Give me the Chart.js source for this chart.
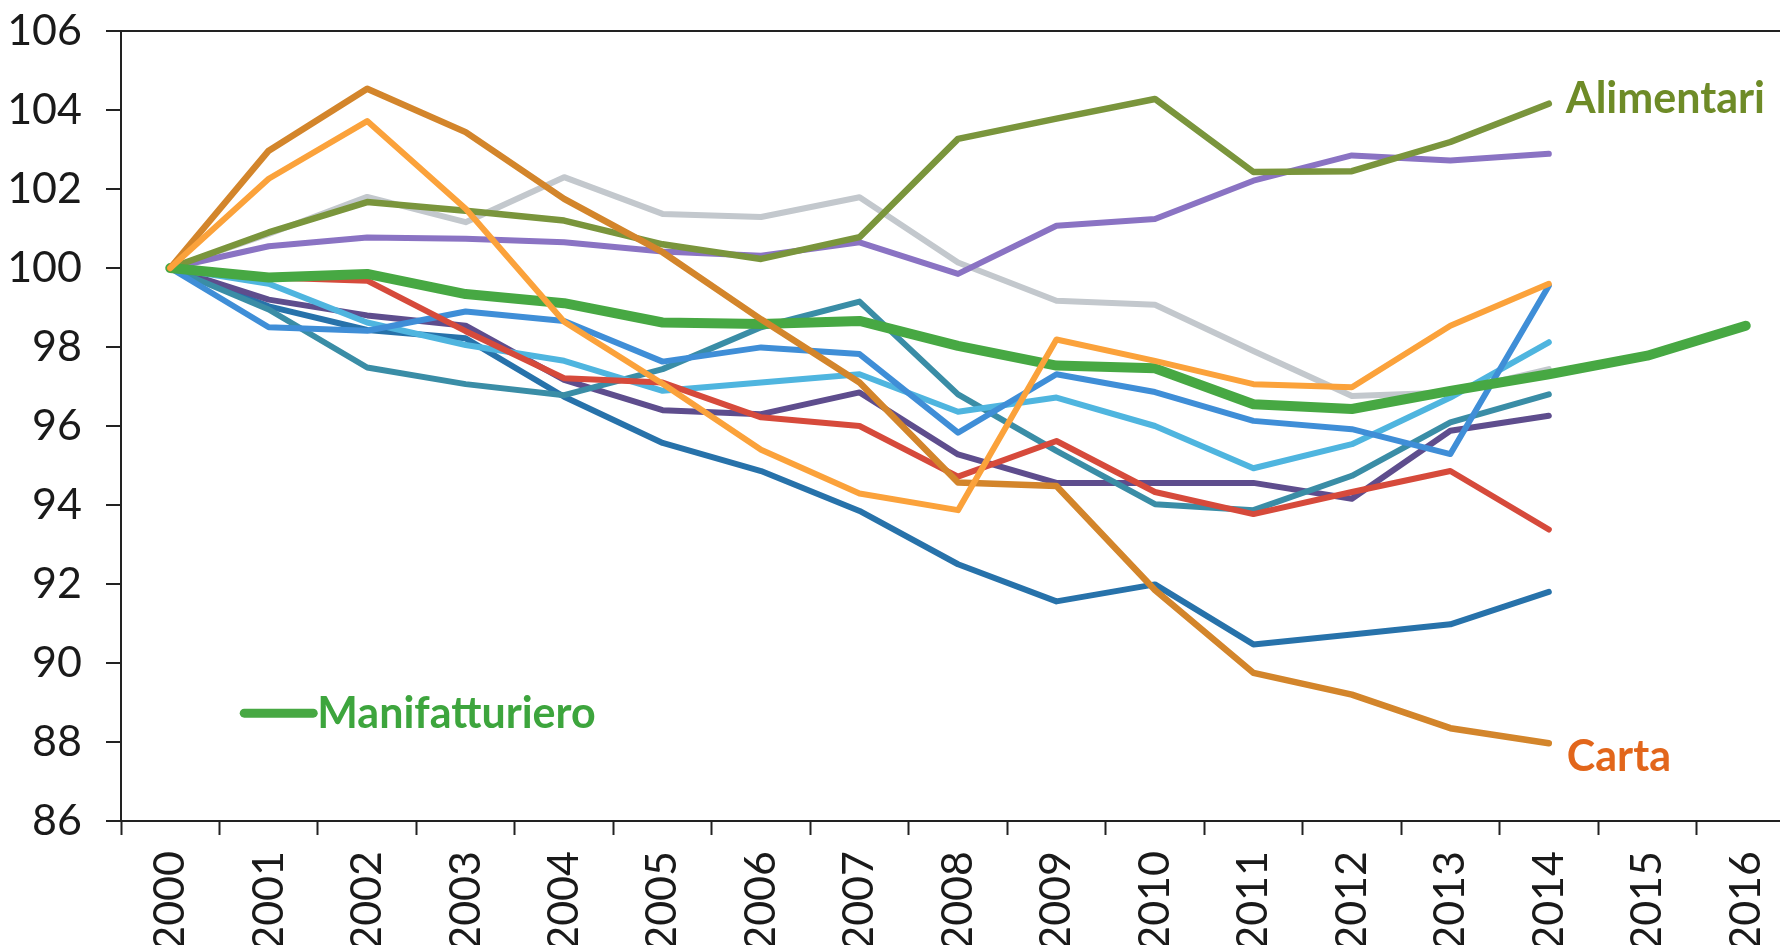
<!DOCTYPE html>
<html><head><meta charset="utf-8">
<script src="https://cdn.jsdelivr.net/npm/chart.js@4.4.1/dist/chart.umd.min.js"></script>
<style>
html,body{margin:0;padding:0;background:#fff;overflow:hidden;width:1780px;height:945px;}
#wrap{position:absolute;left:0;top:0;width:1800px;height:945px;}
</style></head><body>
<div id="wrap"><canvas id="c" width="1800" height="945"></canvas></div>
<script>
const years = ['2000','2001','2002','2003','2004','2005','2006','2007','2008','2009','2010','2011','2012','2013','2014','2015','2016'];
const yTicksMin = 86, yTicksMax = 106, yStep = 2;

const alimentari   = [100, 100.9, 101.67, 101.45, 101.2, 100.6, 100.23, 100.78, 103.27, 103.78, 104.28, 102.43, 102.45, 103.19, 104.16];
const viola        = [100, 100.55, 100.77, 100.74, 100.65, 100.42, 100.31, 100.65, 99.85, 101.07, 101.24, 102.21, 102.85, 102.72, 102.89];
const grigio       = [100, 100.86, 101.8, 101.16, 102.3, 101.37, 101.29, 101.79, 100.14, 99.17, 99.07, 97.9, 96.76, 96.85, 97.44];
const manifatturiero = [100, 99.76, 99.85, 99.34, 99.11, 98.62, 98.58, 98.66, 98.03, 97.53, 97.46, 96.55, 96.43, 96.89, 97.31, 97.78, 98.54];
const carta        = [100, 102.97, 104.54, 103.44, 101.75, 100.4, 98.7, 97.1, 94.57, 94.48, 91.85, 89.75, 89.2, 88.35, 87.97];
const arancio      = [100, 102.26, 103.72, 101.5, 98.64, 97.07, 95.4, 94.29, 93.87, 98.19, 97.65, 97.06, 96.98, 98.54, 99.6];
const ottanio      = [100, 98.95, 97.48, 97.06, 96.78, 97.44, 98.5, 99.15, 96.8, 95.37, 94.02, 93.87, 94.74, 96.09, 96.8];
const blu          = [100, 98.5, 98.41, 98.9, 98.66, 97.63, 97.99, 97.82, 95.83, 97.31, 96.86, 96.13, 95.92, 95.29, 99.55];
const azzurro      = [100, 99.6, 98.62, 98.05, 97.65, 96.89, 97.1, 97.31, 96.36, 96.72, 96.0, 94.93, 95.54, 96.72, 98.12];
const violaScuro   = [100, 99.2, 98.8, 98.54, 97.17, 96.4, 96.3, 96.85, 95.28, 94.56, 94.56, 94.56, 94.16, 95.88, 96.26];
const rosso        = [100, 99.76, 99.68, 98.4, 97.21, 97.1, 96.22, 96.0, 94.72, 95.62, 94.33, 93.77, 94.33, 94.86, 93.38];
const bluScuro     = [100, 99.03, 98.43, 98.22, 96.74, 95.57, 94.86, 93.85, 92.5, 91.56, 91.99, 90.47, 90.72, 90.98, 91.8];

const mk = (label, data, color, w) => ({label, data, borderColor: color, backgroundColor: color, borderWidth: w, fill: false});
const datasets = [
  mk('Arancio', arancio, '#FBA23B', 6),
  mk('Carta', carta, '#D3852B', 6.5),
  mk('Manifatturiero', manifatturiero, '#47A843', 10),
  mk('Rosso', rosso, '#D64A3B', 6),
  mk('Alimentari', alimentari, '#7A953C', 6.5),
  mk('Viola', viola, '#8A73C3', 6),
  mk('Grigio', grigio, '#C3C8CD', 6),
  mk('Blu', blu, '#3F8ED7', 6),
  mk('Azzurro', azzurro, '#4FB5DF', 6),
  mk('Ottanio', ottanio, '#3A8DA6', 6),
  mk('ViolaScuro', violaScuro, '#5E4D8D', 6),
  mk('BluScuro', bluScuro, '#2772AA', 6)
];

const annot = {
  id: 'annot',
  afterDatasetsDraw(chart) {
    const {ctx, scales: {x, y}} = chart;
    const last = alimentari.length - 1;
    ctx.save();
    ctx.textAlign = 'left';
    ctx.textBaseline = 'alphabetic';
    ctx.font = 'bold 43px Lato';
    ctx.fillStyle = '#6E8B27';
    ctx.fillText('Alimentari', x.getPixelForValue(last) + 17, y.getPixelForValue(alimentari[last]) + 9);
    ctx.fillStyle = '#E2661B';
    ctx.fillText('Carta', x.getPixelForValue(last) + 18, y.getPixelForValue(carta[last]) + 28);
    const ly = y.getPixelForValue(88.73);
    const lx0 = x.getPixelForValue(0) + 74;
    const lx1 = lx0 + 69;
    ctx.strokeStyle = '#47A843';
    ctx.lineWidth = 9;
    ctx.lineCap = 'round';
    ctx.beginPath(); ctx.moveTo(lx0, ly); ctx.lineTo(lx1, ly); ctx.stroke();
    ctx.fillStyle = '#3DA53D';
    ctx.fillText('Manifatturiero', lx1 + 4, ly + 15);
    ctx.restore();
  }
};

new Chart(document.getElementById('c'), {
  type: 'line',
  data: {labels: years, datasets},
  options: {
    responsive: false, animation: false, devicePixelRatio: 1,
    layout: {padding: {top: 31, right: 5, left: 0, bottom: 0}},
    plugins: {legend: {display: false}, tooltip: {enabled: false}},
    elements: {point: {radius: 0}, line: {tension: 0, borderJoinStyle: 'round', borderCapStyle: 'round'}},
    scales: {
      x: {
        offset: true,
        grid: {offset: true, drawOnChartArea: false, drawTicks: true, tickLength: 14, tickColor: '#222', tickWidth: 2},
        border: {display: true, color: '#222', width: 2},
        ticks: {maxRotation: 90, minRotation: 90, autoSkip: false, font: {family: 'Lato', size: 43}, color: '#1a1a1a', padding: 16},
        afterFit(s) { s.height = 124; s.paddingLeft = 0; s.paddingRight = 0; }
      },
      y: {
        min: yTicksMin, max: yTicksMax,
        ticks: {stepSize: yStep, font: {family: 'Lato', size: 43}, color: '#1a1a1a', padding: 24},
        grid: {color: (c) => (c.tick && c.tick.value === yTicksMax) ? '#222' : 'rgba(0,0,0,0)', tickColor: '#222', tickLength: 15, lineWidth: 2, tickWidth: 2},
        border: {display: true, color: '#222', width: 2},
        afterFit(s) { s.width = 121; s.paddingTop = 0; s.paddingBottom = 0; }
      }
    }
  },
  plugins: [annot]
});
</script>
</body></html>
